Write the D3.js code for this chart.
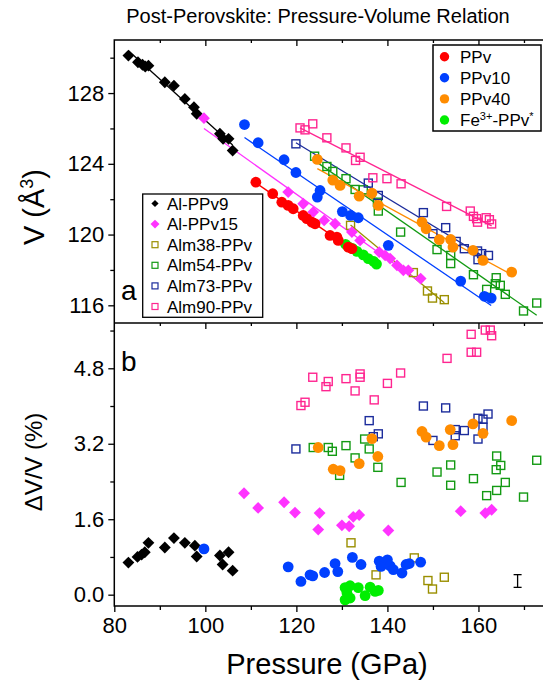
<!DOCTYPE html>
<html>
<head>
<meta charset="utf-8">
<script src="https://cdn.jsdelivr.net/npm/d3@7"></script>
<style>
  body { margin: 0; background: #fff; }
  svg { font-family: "Liberation Sans", Arial, Helvetica, sans-serif; }
</style>
</head>
<body>
<svg id="chart" width="543" height="692"></svg>
<script>
// ---- panel a: pressure (GPa) and volume (A^3) ----
const alppv9P = [83.1, 85.2, 86.2, 86.8, 87.5, 91.1, 93.1, 95.5, 97.5, 98.1, 103.2, 103.9, 105.1, 106.0];
const alppv9V = [130.12, 129.74, 129.6, 129.5, 129.55, 128.61, 128.42, 127.67, 127.2, 126.83, 125.7, 125.41, 125.41, 124.75];
const alppv15P = [99.7, 118.2, 121.5, 123.7, 126.1, 128.5, 132.2, 134.0, 138.2, 139.5, 140.6, 142.1, 143.5, 144.6, 147.3];
const alppv15V = [126.58, 122.4, 121.74, 121.27, 120.8, 120.61, 120.14, 119.67, 119.01, 118.82, 118.64, 118.26, 117.98, 117.98, 117.51];
const ppvP = [111.1, 114.8, 116.8, 118.2, 119.3, 121.5, 122.3, 123.4, 124.1, 127.4, 128.9, 129.2, 131.4, 132.2];
const ppvV = [122.96, 122.31, 121.83, 121.65, 121.46, 121.08, 120.9, 120.7, 120.61, 119.95, 119.86, 119.67, 119.29, 119.2];
const ppv10P = [108.6, 111.6, 117.3, 119.9, 124.6, 125.2, 130.1, 131.9, 133.6, 140.2, 156.1, 161.3, 162.8];
const ppv10V = [126.22, 125.19, 124.23, 123.51, 122.12, 122.49, 121.3, 121.08, 120.95, 119.39, 117.37, 116.51, 116.41];
const ppv40P = [124.6, 128.0, 129.6, 133.8, 136.6, 138.0, 147.6, 148.5, 151.4, 153.9, 154.4, 158.8, 161.0, 167.3];
const ppv40V = [124.25, 123.08, 122.78, 122.17, 122.34, 121.65, 120.7, 120.33, 119.71, 119.72, 119.29, 119.11, 118.54, 117.88];
const fePpvP = [130.8, 131.5, 132.4, 133.3, 134.7, 135.8, 137.0, 137.6];
const fePpvV = [119.45, 119.3, 119.2, 119.05, 118.85, 118.64, 118.48, 118.33];
const alm38P = [131.9, 145.7, 148.8, 149.9, 152.5];
const alm38V = [120.52, 117.85, 116.81, 116.41, 116.32];
const alm54P = [124.0, 126.7, 128.0, 130.9, 132.9, 134.7, 137.8, 138.0, 142.9, 150.9, 153.9, 153.9, 158.9, 161.8, 163.7, 163.9, 164.8, 165.9, 169.9, 172.8];
const alm54V = [124.43, 123.85, 123.57, 123.16, 122.55, 122.53, 121.83, 121.33, 120.14, 119.15, 118.82, 118.36, 117.73, 116.9, 117.22, 117.56, 117.13, 116.62, 115.68, 116.13];
const alm73P = [119.9, 135.8, 138.0, 147.9, 150.0, 152.8, 155.1, 156.9, 159.8, 159.9, 160.7, 162.2];
const alm73V = [125.13, 122.91, 122.21, 121.24, 120.05, 120.39, 119.61, 119.2, 119.07, 118.58, 118.92, 118.82];
const alm90P = [120.8, 121.9, 123.6, 126.7, 130.9, 133.0, 134.0, 136.8, 139.9, 143.0, 153.0, 158.2, 158.9, 159.6, 159.8, 161.7, 162.4, 162.9];
const alm90V = [126.03, 125.92, 126.26, 125.47, 124.9, 124.19, 124.37, 123.21, 123.16, 122.87, 121.59, 121.33, 121.03, 120.9, 120.7, 120.95, 120.84, 120.6];

// ---- panel b: pressure (GPa) and dV/V (%) ----
const alppv9dP = [83.1, 85.1, 86.0, 86.7, 87.5, 91.1, 93.1, 95.5, 97.7, 98.1, 103.2, 103.8, 105.1, 106.0];
const alppv9dV = [0.68, 0.80, 0.85, 0.90, 1.10, 1.00, 1.20, 1.10, 1.04, 0.81, 0.83, 0.64, 0.90, 0.51];
const alppv15dP = [108.5, 111.6, 117.3, 119.7, 124.8, 125.1, 130.0, 131.6, 132.5, 133.8, 140.2, 156.1, 161.5, 162.9];
const alppv15dV = [2.15, 1.84, 1.96, 1.74, 1.38, 1.73, 1.47, 1.45, 1.65, 1.69, 1.36, 1.77, 1.73, 1.80];
const ppv10dP = [99.7, 118.2, 121.0, 123.0, 123.6, 126.2, 128.5, 129.1, 132.3, 134.2, 138.2, 138.6, 140.0, 140.6, 141.3, 143.2, 144.1, 144.8, 147.3];
const ppv10dV = [0.97, 0.59, 0.28, 0.42, 0.40, 0.47, 0.66, 0.49, 0.79, 0.64, 0.71, 0.60, 0.74, 0.61, 0.53, 0.46, 0.64, 0.66, 0.69];
const ppv40dP = [124.8, 128.1, 129.6, 133.8, 136.6, 137.9, 147.6, 148.5, 151.4, 153.8, 154.4, 158.8, 161.0, 167.3];
const ppv40dV = [3.12, 2.66, 2.63, 2.78, 3.31, 2.93, 3.46, 3.34, 3.16, 3.50, 3.18, 3.62, 3.42, 3.69];
const fePpvdP = [130.7, 130.7, 131.1, 131.8, 131.8, 133.6, 135.1, 136.2, 137.3, 138.0];
const fePpvdV = [0.15, -0.11, 0.04, 0.19, -0.07, 0.15, -0.02, 0.16, 0.07, 0.09];
const alm38dP = [132.0, 137.5, 145.9, 148.9, 149.9, 152.5];
const alm38dV = [1.10, 0.42, 0.78, 0.30, 0.12, 0.37];
const alm54dP = [123.7, 127.0, 127.9, 129.5, 130.9, 132.9, 135.0, 136.0, 137.9, 143.0, 150.9, 153.9, 153.9, 158.9, 161.8, 163.9, 164.0, 164.0, 164.9, 165.9, 169.9, 172.8];
const alm54dV = [3.12, 3.12, 3.04, 2.53, 3.16, 2.90, 3.30, 3.09, 2.70, 2.38, 2.60, 2.75, 2.32, 2.46, 2.10, 2.65, 2.94, 2.21, 2.74, 2.38, 2.07, 2.85];
const alm73dP = [119.9, 136.0, 136.9, 138.0, 147.9, 150.0, 152.8, 154.9, 154.9, 156.9, 159.9, 159.9, 161.0, 161.0, 162.1];
const alm73dV = [3.09, 3.69, 3.35, 3.41, 4.00, 3.27, 3.96, 3.50, 3.37, 3.48, 3.74, 3.30, 3.72, 3.55, 3.83];
const alm90dP = [121.0, 121.9, 123.6, 126.5, 127.0, 130.9, 132.9, 134.0, 134.0, 137.1, 140.0, 142.9, 153.1, 158.4, 158.4, 159.6, 161.5, 162.6, 162.9];
const alm90dV = [4.01, 4.08, 4.61, 4.41, 4.52, 4.58, 4.32, 4.68, 4.61, 4.13, 4.48, 4.70, 5.01, 5.52, 5.14, 5.14, 5.61, 5.61, 5.49];

// typical error bar (P, dV/V, half height)
const errBar = { p: 168.6, d: 0.29, half: 0.135 };

const xTicks = [80, 100, 120, 140, 160];
const xMinor = [90, 110, 130, 150, 170];
const vTicks = [116, 120, 124, 128];
const vMinor = [118, 122, 126, 130];
const dTicks = [0, 1.6, 3.2, 4.8];
const dMinor = [0.8, 2.4, 4.0, 5.6];

const colors = {
  alppv9: "#000000",
  alppv15: "#ff33ff",
  ppv: "#ff0000",
  ppv10: "#0040ff",
  ppv40: "#ff8c00",
  fe: "#00ee00",
  alm38: "#9a8f00",
  alm54: "#139a13",
  alm73: "#1c2c9c",
  alm90: "#ff2590",
};

// ---- layout ----
const svg = d3.select("#chart");
const plotL = 114.3, plotR = 544, plotT = 40, plotM = 323, plotB = 606;

const x = d3.scaleLinear().domain([80, 174.4]).range([plotL, plotR]);
const yA = d3.scaleLinear().domain([115, 131]).range([plotM, plotT]);
const yB = d3.scaleLinear().domain([-0.24, 5.76]).range([plotB, plotM]);

const fitLine = (p, v) => {
  const mp = d3.mean(p), mv = d3.mean(v);
  const b = d3.sum(p, (d, i) => (d - mp) * (v[i] - mv)) / d3.sum(p, (d) => (d - mp) ** 2);
  const [p0, p1] = d3.extent(p);
  return [[p0, mv + b * (p0 - mp)], [p1, mv + b * (p1 - mp)]];
};

const zip = (p, v) => p.map((d, i) => [d, v[i]]);

const seriesA = [
  { key: "alm38", p: alm38P, v: alm38V, shape: "square", fit: true },
  { key: "alm54", p: alm54P, v: alm54V, shape: "square", fit: true },
  { key: "alm73", p: alm73P, v: alm73V, shape: "square", fit: true },
  { key: "alm90", p: alm90P, v: alm90V, shape: "square", fit: true },
  { key: "alppv9", p: alppv9P, v: alppv9V, shape: "diamond", fit: true },
  { key: "alppv15", p: alppv15P, v: alppv15V, shape: "diamond", fit: true },
  { key: "fe", p: fePpvP, v: fePpvV, shape: "circle", fit: false },
  { key: "ppv40", p: ppv40P, v: ppv40V, shape: "circle", fit: true },
  { key: "ppv10", p: ppv10P, v: ppv10V, shape: "circle", fit: true },
  { key: "ppv", p: ppvP, v: ppvV, shape: "circle", fit: true },
];

const seriesB = [
  { key: "alm38", p: alm38dP, v: alm38dV, shape: "square" },
  { key: "alm54", p: alm54dP, v: alm54dV, shape: "square" },
  { key: "alm73", p: alm73dP, v: alm73dV, shape: "square" },
  { key: "alm90", p: alm90dP, v: alm90dV, shape: "square" },
  { key: "alppv9", p: alppv9dP, v: alppv9dV, shape: "diamond" },
  { key: "alppv15", p: alppv15dP, v: alppv15dV, shape: "diamond" },
  { key: "fe", p: fePpvdP, v: fePpvdV, shape: "circle" },
  { key: "ppv40", p: ppv40dP, v: ppv40dV, shape: "circle" },
  { key: "ppv10", p: ppv10dP, v: ppv10dV, shape: "circle" },
];

const drawMarks = (g, s, y) => {
  const pts = zip(s.p, s.v);
  const c = colors[s.key];
  if (s.shape === "circle") {
    g.selectAll(null).data(pts).enter().append("circle")
      .attr("cx", (d) => x(d[0])).attr("cy", (d) => y(d[1]))
      .attr("r", 5.4).attr("fill", c);
  } else if (s.shape === "diamond") {
    g.selectAll(null).data(pts).enter().append("path")
      .attr("d", d3.symbol(d3.symbolSquare, 70))
      .attr("transform", (d) => `translate(${x(d[0])},${y(d[1])}) rotate(45)`)
      .attr("fill", c);
  } else {
    g.selectAll(null).data(pts).enter().append("rect")
      .attr("x", (d) => x(d[0]) - 4).attr("y", (d) => y(d[1]) - 4)
      .attr("width", 8).attr("height", 8)
      .attr("fill", "none").attr("stroke", c).attr("stroke-width", 1.4);
  }
};

// clip so nothing spills outside panels
svg.append("clipPath").attr("id", "clipA").append("rect")
  .attr("x", plotL).attr("y", plotT).attr("width", plotR - plotL).attr("height", plotM - plotT);
svg.append("clipPath").attr("id", "clipB").append("rect")
  .attr("x", plotL).attr("y", plotM).attr("width", plotR - plotL).attr("height", plotB - plotM);

// panel a: fit lines
const gA = svg.append("g").attr("clip-path", "url(#clipA)");
const line = d3.line().x((d) => x(d[0])).y((d) => yA(d[1]));
seriesA.filter((s) => s.fit).forEach((s) => {
  gA.append("path")
    .attr("d", line(fitLine(s.p, s.v)))
    .attr("fill", "none")
    .attr("stroke", colors[s.key])
    .attr("stroke-width", 1.3);
});
seriesA.forEach((s) => drawMarks(gA, s, yA));

// panel b
const gB = svg.append("g").attr("clip-path", "url(#clipB)");
seriesB.forEach((s) => drawMarks(gB, s, yB));

// error bar
const eb = gB.append("g").attr("stroke", "#000").attr("stroke-width", 1.3);
eb.append("line").attr("x1", x(errBar.p)).attr("x2", x(errBar.p))
  .attr("y1", yB(errBar.d - errBar.half)).attr("y2", yB(errBar.d + errBar.half));
[errBar.d - errBar.half, errBar.d + errBar.half].forEach((v) => {
  eb.append("line").attr("x1", x(errBar.p) - 4).attr("x2", x(errBar.p) + 4)
    .attr("y1", yB(v)).attr("y2", yB(v));
});

// ---- axes ----
const styleAxis = (g) => {
  g.select(".domain").remove();
  g.selectAll("line").attr("stroke", "#000").attr("stroke-width", 1.3);
  g.selectAll("text").attr("fill", "#000").style("font-size", "22px");
};

// left, panel a
svg.append("g").attr("transform", `translate(${plotL},0)`)
  .call(d3.axisLeft(yA).tickValues(vTicks).tickSize(6).tickPadding(4).tickFormat(d3.format("d")))
  .call(styleAxis);
svg.append("g").attr("transform", `translate(${plotL},0)`)
  .call(d3.axisLeft(yA).tickValues(vMinor).tickSize(4).tickFormat(""))
  .call(styleAxis);

// left, panel b
svg.append("g").attr("transform", `translate(${plotL},0)`)
  .call(d3.axisLeft(yB).tickValues(dTicks).tickSize(6).tickPadding(4).tickFormat(d3.format(".1f")))
  .call(styleAxis);
svg.append("g").attr("transform", `translate(${plotL},0)`)
  .call(d3.axisLeft(yB).tickValues(dMinor).tickSize(4).tickFormat(""))
  .call(styleAxis);

// bottom
svg.append("g").attr("transform", `translate(0,${plotB})`)
  .call(d3.axisBottom(x).tickValues(xTicks).tickSize(6).tickPadding(5))
  .call(styleAxis);
svg.append("g").attr("transform", `translate(0,${plotB})`)
  .call(d3.axisBottom(x).tickValues(xMinor).tickSize(4).tickFormat(""))
  .call(styleAxis);

// inner ticks on top frame and panel divider
[plotT, plotM].forEach((yy) => {
  svg.append("g").attr("transform", `translate(0,${yy})`)
    .call(d3.axisBottom(x).tickValues(xTicks.slice(1)).tickSize(6).tickFormat(""))
    .call(styleAxis);
  svg.append("g").attr("transform", `translate(0,${yy})`)
    .call(d3.axisBottom(x).tickValues(xMinor).tickSize(3).tickFormat(""))
    .call(styleAxis);
});

// frame
svg.append("rect")
  .attr("x", plotL).attr("y", plotT).attr("width", plotR - plotL).attr("height", plotB - plotT)
  .attr("fill", "none").attr("stroke", "#000").attr("stroke-width", 1.5);
svg.append("line")
  .attr("x1", plotL).attr("x2", plotR).attr("y1", plotM).attr("y2", plotM)
  .attr("stroke", "#000").attr("stroke-width", 1.5);

// ---- text ----
svg.append("text")
  .attr("x", 318).attr("y", 23)
  .attr("text-anchor", "middle")
  .style("font-size", "20px")
  .text("Post-Perovskite: Pressure-Volume Relation");

svg.append("text")
  .attr("x", 327).attr("y", 674)
  .attr("text-anchor", "middle")
  .style("font-size", "29px")
  .text("Pressure (GPa)");

const vLabel = svg.append("text")
  .attr("transform", `translate(44,207) rotate(-90)`)
  .attr("text-anchor", "middle")
  .style("font-size", "29px");
vLabel.append("tspan").text("V (Å");
vLabel.append("tspan").attr("dy", -11).style("font-size", "18px").text("3");
vLabel.append("tspan").attr("dy", 11).text(")");

svg.append("text")
  .attr("transform", `translate(42,462) rotate(-90)`)
  .attr("text-anchor", "middle")
  .style("font-size", "24px")
  .text("ΔV/V (%)");

svg.append("text").attr("x", 121).attr("y", 300).style("font-size", "28px").text("a");
svg.append("text").attr("x", 121).attr("y", 371).style("font-size", "28px").text("b");

// ---- legends ----
const legend1 = [
  { key: "ppv", label: "PPv" },
  { key: "ppv10", label: "PPv10" },
  { key: "ppv40", label: "PPv40" },
  { key: "fe", label: "Fe" },
];
const lg1 = svg.append("g");
lg1.append("rect")
  .attr("x", 433).attr("y", 45).attr("width", 108).attr("height", 86)
  .attr("fill", "#fff").attr("stroke", "#000").attr("stroke-width", 1.5);
legend1.forEach((d, i) => {
  const cy = 56.7 + i * 21.1;
  lg1.append("circle").attr("cx", 444.5).attr("cy", cy).attr("r", 4.7).attr("fill", colors[d.key]);
  const t = lg1.append("text").attr("x", 460).attr("y", cy + 6).style("font-size", "17px").text(d.label);
  if (d.key === "fe") {
    t.append("tspan").attr("dy", -6).style("font-size", "11px").text("3+");
    t.append("tspan").attr("dy", 6).text("-PPv");
    t.append("tspan").attr("dy", -6).style("font-size", "11px").text("*");
  }
});

const legend2 = [
  { key: "alppv9", label: "Al-PPv9", shape: "diamond" },
  { key: "alppv15", label: "Al-PPv15", shape: "diamond" },
  { key: "alm38", label: "Alm38-PPv", shape: "square" },
  { key: "alm54", label: "Alm54-PPv", shape: "square" },
  { key: "alm73", label: "Alm73-PPv", shape: "square" },
  { key: "alm90", label: "Alm90-PPv", shape: "square" },
];
const lg2 = svg.append("g");
lg2.append("rect")
  .attr("x", 142.7).attr("y", 194).attr("width", 120).attr("height", 123.3)
  .attr("fill", "#fff").attr("stroke", "#000").attr("stroke-width", 1.3);
legend2.forEach((d, i) => {
  const cy = 203.5 + i * 20.6;
  if (d.shape === "diamond") {
    lg2.append("path")
      .attr("d", d3.symbol(d3.symbolSquare, d.key === "alppv9" ? 26 : 40))
      .attr("transform", `translate(155,${cy}) rotate(45)`)
      .attr("fill", colors[d.key]);
  } else {
    lg2.append("rect")
      .attr("x", 152).attr("y", cy - 3).attr("width", 6).attr("height", 6)
      .attr("fill", "none").attr("stroke", colors[d.key]).attr("stroke-width", 1.2);
  }
  lg2.append("text").attr("x", 167).attr("y", cy + 6).style("font-size", "17px").text(d.label);
});
</script>
</body>
</html>
